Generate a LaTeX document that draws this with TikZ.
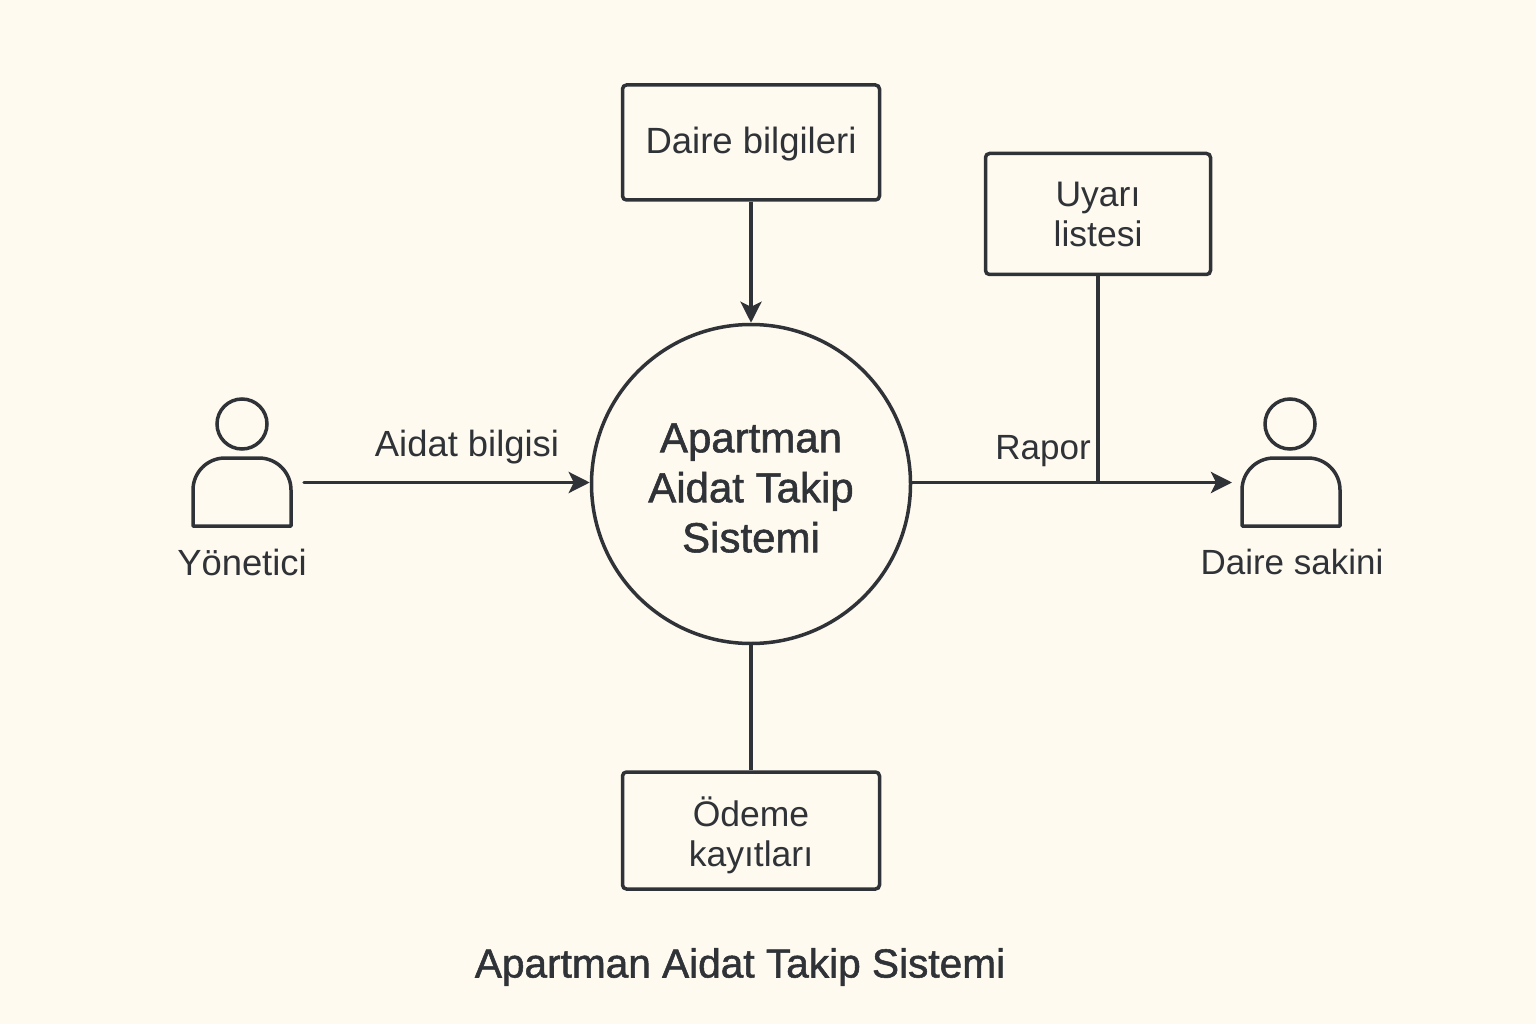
\documentclass[tikz,border=0pt]{standalone}
\usepackage{fontspec}
\setmainfont{Liberation Sans}
\newfontfamily\boldish[FakeBold=1.3]{Liberation Sans}
\usetikzlibrary{arrows.meta,calc}
\definecolor{bg}{HTML}{FFFAEF}
\definecolor{ink}{HTML}{2F3337}
\tikzset{
  x=1pt,y=-1pt,
  line/.style={draw=ink,line width=3.5pt},
  flow/.style={line,-{Stealth[length=21pt,width=21pt,inset=5pt]}},
  store/.style={line,rounded corners=4pt,inner sep=0pt,align=center,font=\fontsize{35.5}{40}\selectfont,text=ink},
  lbl/.style={inner sep=0pt,text=ink,font=\fontsize{36.4}{40}\selectfont,align=center},
  head/.style={line,circle,minimum size=50pt,inner sep=0pt},
}
\newcommand{\bodyshape}[1]{%
  \draw[line,line join=round] ($(#1)+(-49,34)$) -- ($(#1)+(-49,-2)$) arc[start angle=180,end angle=270,radius=32] -- ($(#1)+(17,-34)$) arc[start angle=270,end angle=360,radius=32] -- ($(#1)+(49,34)$) -- cycle;}
\begin{document}
\begin{tikzpicture}
\path[fill=bg] (0,0) rectangle (1536,1024);
\useasboundingbox (0,0) rectangle (1536,1024);
% central process
\node[line,circle,minimum size=319pt,inner sep=0pt] (proc) at (751,484) {};
\node[lbl,font=\boldish\fontsize{42}{50}\selectfont,text=ink] (proctext) at (751,488) {Apartman\\Aidat Takip\\Sistemi};
% stores
\node[store,font=\fontsize{36.5}{40}\selectfont,minimum width=257pt,minimum height=115pt] (daire) at (751,142.5) {\rule{0pt}{29pt}Daire bilgileri};
\node[store,minimum width=225pt,minimum height=121pt] (uyari) at (1098,214) {Uyarı\\listesi};
\node[store,minimum width=257pt,minimum height=117pt] (odeme) at (751,830.5) {\rule{0pt}{39pt}Ödeme\\kayıtları};
% actors
\node[head] (h1) at (242,424) {};
\coordinate (b1) at (242,492);
\bodyshape{b1}
\node[head] (h2) at (1290,424) {};
\coordinate (b2) at (1291,492);
\bodyshape{b2}
\node[lbl] (yon) at (242,562) {Yönetici};
\node[lbl,font=\fontsize{35}{40}\selectfont] (sakin) at (1292,562) {Daire sakini};
% connectors
\coordinate (s1) at (304,482.5);
\coordinate (e2) at (1232,482.5);
\coordinate (j) at (uyari.south |- e2);
\draw[flow,line cap=round] (s1) -- (s1 -| proc.west);
\draw[flow] (e2 -| proc.east) -- (e2);
\draw[line] (uyari.south) -- (j);
\draw[flow] (daire.south) -- (proc.north);
\draw[line] (proc.south) -- (odeme.north);
% labels
\node[lbl] (aidat) at (467,447) {Aidat bilgisi};
\node[lbl,font=\fontsize{35}{40}\selectfont] (rapor) at (1043,451) {Rapor};
\node[lbl,font=\boldish\fontsize{40.6}{44}\selectfont] (title) at (740,967) {Apartman Aidat Takip Sistemi};
\end{tikzpicture}
\end{document}
